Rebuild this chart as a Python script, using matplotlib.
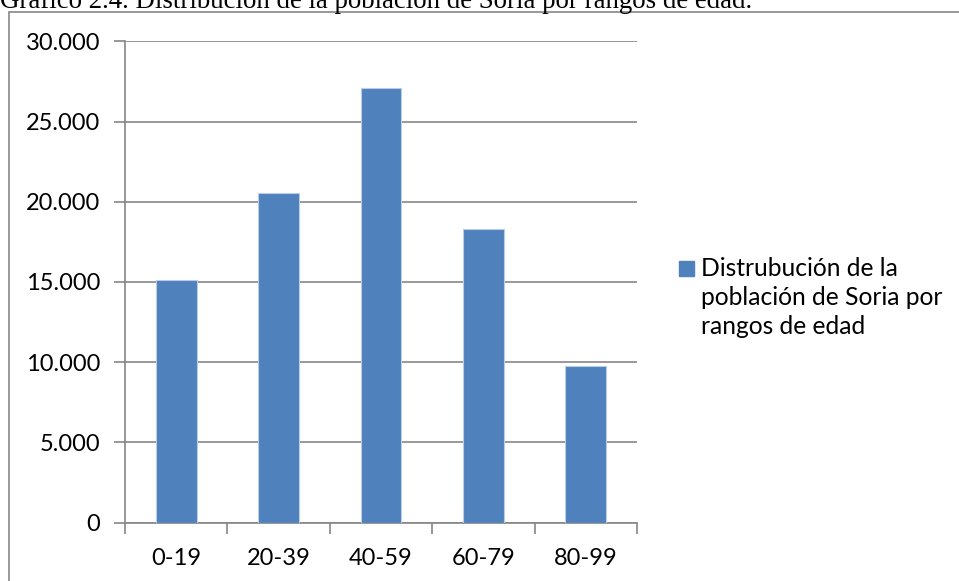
import matplotlib
matplotlib.use("Agg")
import matplotlib.pyplot as plt
from matplotlib.patches import Rectangle
from matplotlib.ticker import FuncFormatter

# Población de Soria por rangos de edad
rangos = ["0-19", "20-39", "40-59", "60-79", "80-99"]
poblacion = [15120, 20560, 27100, 18320, 9740]
yticks = [0, 5000, 10000, 15000, 20000, 25000, 30000]

TITULO = "Gráfico 2.4. Distribución de la población de Soria por rangos de edad."
LEYENDA = ["Distrubución de la", "población de Soria por", "rangos de edad"]

AZUL = "#4F81BD"; BORDE = "#B9CDE5"; GRIS = "#868686"
W, H = 959, 581

fig = plt.figure(figsize=(W / 100, H / 100), dpi=100, facecolor="white")
ax = fig.add_axes([125 / W, (H - 522.7) / H, (637 - 125) / W, (522.7 - 41.3) / H])

x = range(len(rangos))
ax.bar(x, poblacion, width=0.4, color=AZUL, edgecolor=BORDE, linewidth=0.8, zorder=3)
ax.set_xlim(-0.5, len(rangos) - 0.5)
ax.set_ylim(0, 30000)
ax.set_yticks(yticks)
ax.yaxis.set_major_formatter(FuncFormatter(lambda v, p: f"{int(v):,}".replace(",", ".")))
ax.set_xticks(x)
ax.set_xticklabels(rangos)
ax.set_xticks([i - 0.5 for i in range(len(rangos) + 1)], minor=True)

ax.grid(axis="y", color=GRIS, linewidth=1.2, zorder=0)
for s in ["top", "right"]:
    ax.spines[s].set_visible(False)
for s in ["left", "bottom"]:
    ax.spines[s].set_color(GRIS)
    ax.spines[s].set_linewidth(1.2)

ax.tick_params(axis="y", length=8, width=1.2, color=GRIS, labelsize=17, pad=10)
ax.tick_params(axis="x", which="major", length=0, labelsize=17, pad=18)
ax.tick_params(axis="x", which="minor", length=8, width=1.2, color=GRIS)
for lab in ax.get_xticklabels() + ax.get_yticklabels():
    lab.set_fontfamily("Lato")

# marco del gráfico
fig.patches.append(Rectangle((9 / W, -0.1), 1.2, 1.1 - 12 / H,
                             transform=fig.transFigure, fill=False,
                             edgecolor=GRIS, linewidth=1.2))

fig.text(0, 1 - 8.5 / H, TITULO, family="Liberation Serif", fontsize=19.4,
         va="baseline", ha="left", color="black")

# leyenda
fig.patches.append(Rectangle((679 / W, 1 - 275.7 / H), 15 / W, 15 / H,
                             transform=fig.transFigure, color=AZUL))
for i, linea in enumerate(LEYENDA):
    fig.text(701 / W, 1 - (276 + 29 * i) / H, linea, family="Lato", fontsize=17.7,
             va="baseline", ha="left")

fig.savefig("out.png", dpi=100, facecolor="white")
